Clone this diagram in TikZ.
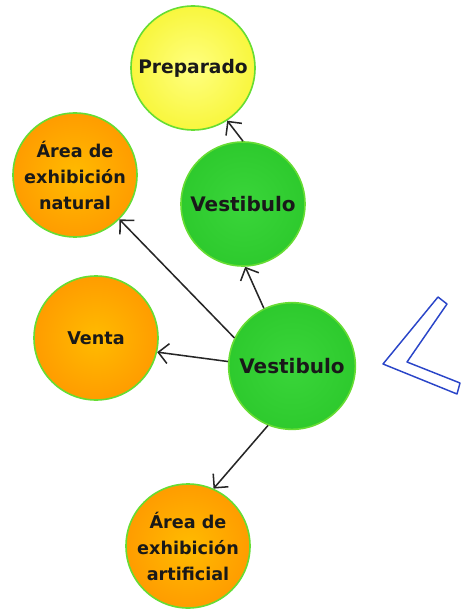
\documentclass[tikz,border=0pt]{standalone}
\usepackage{fontspec}
\setmainfont{DejaVu Sans}
\usetikzlibrary{positioning,arrows.meta}

\definecolor{rimgreen}{HTML}{66DD33}
\definecolor{greenin}{HTML}{3AD53A}
\definecolor{greenout}{HTML}{22C022}
\definecolor{orangein}{HTML}{FFBB00}
\definecolor{orangeout}{HTML}{FF8000}
\definecolor{yellowin}{HTML}{FFFF80}
\definecolor{yellowout}{HTML}{F2EE00}
\definecolor{signblue}{HTML}{2A45C8}

\pgfdeclareradialshading{glowgreen}{\pgfpoint{0bp}{0bp}}{color(0bp)=(greenin); color(48bp)=(greenout); color(75bp)=(greenout)}
\pgfdeclareradialshading{gloworange}{\pgfpoint{0bp}{0bp}}{color(0bp)=(orangein); color(48bp)=(orangeout); color(75bp)=(orangeout)}
\pgfdeclareradialshading{glowyellow}{\pgfpoint{0bp}{0bp}}{color(0bp)=(yellowin); color(48bp)=(yellowout); color(75bp)=(yellowout)}

\begin{document}
\begin{tikzpicture}[
    >={Straight Barb[length=7.5pt,width=15pt]}, on grid,
    room/.style={circle, draw=rimgreen, line width=1.2pt, minimum size=93pt,
      inner sep=0pt, align=center, text=black!90,
      font=\bfseries\fontsize{13.2}{19.5}\selectfont},
    hall/.style={room, shading=glowgreen, font=\bfseries\fontsize{15}{18}\selectfont},
    exhibit/.style={room, shading=gloworange},
    ready/.style={room, shading=glowyellow, font=\bfseries\fontsize{14}{18}\selectfont},
    link/.style={->, line width=1.15pt, black!85}]
  \useasboundingbox (0,0) rectangle (348pt,-456.75pt);
  \node[hall, minimum size=95pt] (hall) at (219pt,-274.5pt) {Vestibulo};
  \node[hall, above left=121.5pt and 36.75pt of hall] (hallup) {Vestibulo};
  \node[ready, above left=102pt and 37.5pt of hallup] (ready) {Preparado};
  \node[exhibit, above left=143.25pt and 162.75pt of hall] (natural) {Área de\\exhibición\\natural};
  \node[exhibit, above left=21pt and 147pt of hall] (sale) {Venta};
  \node[exhibit, below left=135pt and 78pt of hall] (artificial) {Área de\\exhibición\\artificial};
  \draw[link] (hall.116) -- (hallup.-88);
  \draw[link] (hallup.90) -- (ready.-57);
  \draw[link] (hall.154) -- (natural.-45);
  \draw[link] (hall.176) -- (sale.-13);
  \draw[link] (hall.-112) -- (artificial.66);
  % blue sign on the right
  \draw[signblue, line width=1.1pt, line join=round]
    (287.25pt,-273pt) -- (328.5pt,-222.75pt) -- (335.25pt,-228pt)
    -- (305.25pt,-271.5pt) -- (345pt,-287.25pt) -- (342.75pt,-295.5pt) -- cycle;
\end{tikzpicture}
\end{document}
